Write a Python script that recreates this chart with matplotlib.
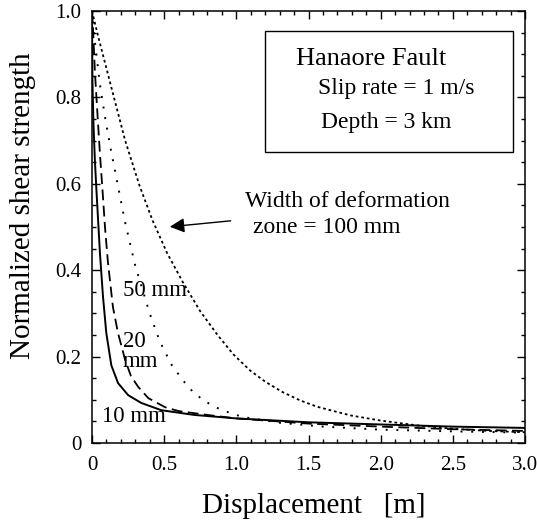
import matplotlib
matplotlib.use('Agg')
import matplotlib.pyplot as plt
from matplotlib.patches import Rectangle
from matplotlib.ticker import MultipleLocator, FixedFormatter, FixedLocator

plt.rcParams['font.family'] = 'serif'
plt.rcParams['font.serif'] = ['Liberation Serif', 'DejaVu Serif']

# curves (displacement [m], normalized shear strength)
x_10mm = [0, 0.003, 0.01, 0.02, 0.03, 0.04, 0.055, 0.076, 0.099, 0.134, 0.18, 0.25, 0.34, 0.48, 0.71,
          1.0, 1.5, 2.0, 2.5, 3.0]
y_10mm = [1.0, 0.84, 0.74, 0.655, 0.59, 0.53, 0.44, 0.34, 0.255, 0.18, 0.139, 0.111, 0.093, 0.076, 0.065,
          0.057, 0.048, 0.043, 0.038, 0.035]

x_20mm = [0, 0.007, 0.02, 0.04, 0.055, 0.076, 0.09, 0.11, 0.145, 0.18, 0.23, 0.27, 0.32, 0.39, 0.506,
          0.6, 0.8, 1.0, 1.5, 2.0, 2.5, 3.0]
y_20mm = [1.0, 0.96, 0.86, 0.75, 0.67, 0.57, 0.50, 0.42, 0.315, 0.255, 0.192, 0.155, 0.13, 0.104, 0.083,
          0.074, 0.065, 0.057, 0.045, 0.038, 0.032, 0.028]

x_50mm = [0, 0.02, 0.055, 0.09, 0.13, 0.18, 0.23, 0.30, 0.40, 0.47, 0.55, 0.63, 0.70, 0.78, 0.87,
          0.96, 1.05, 1.3, 1.6, 2.0, 2.5, 3.0]
y_50mm = [1.0, 0.93, 0.83, 0.755, 0.68, 0.595, 0.51, 0.41, 0.30, 0.235, 0.182, 0.145, 0.118, 0.097, 0.081,
          0.069, 0.06, 0.047, 0.038, 0.031, 0.027, 0.024]

x_100mm = [0, 0.04, 0.125, 0.23, 0.33, 0.42, 0.52, 0.63, 0.75, 0.87, 0.98, 1.095, 1.2, 1.32, 1.44,
           1.56, 1.79, 2.0, 2.25, 2.5, 2.75, 3.0]
y_100mm = [1.0, 0.945, 0.835, 0.70, 0.595, 0.515, 0.44, 0.372, 0.305, 0.25, 0.205, 0.168, 0.142, 0.118, 0.099,
           0.084, 0.064, 0.052, 0.041, 0.033, 0.028, 0.025]

x_ticks = [0, 0.5, 1.0, 1.5, 2.0, 2.5, 3.0]
x_ticklabels = ['0', '0.5', '1.0', '1.5', '2.0', '2.5', '3.0']
y_ticks = [0, 0.2, 0.4, 0.6, 0.8, 1.0]
y_ticklabels = ['0', '0.2', '0.4', '0.6', '0.8', '1.0']

fig = plt.figure(figsize=(5.37, 5.20), dpi=100)
ax = fig.add_axes([0.1713, 0.148, 0.8064, 0.8308])

ax.plot(x_10mm, y_10mm, color='black', lw=1.4, ls='-')
ax.plot(x_20mm, y_20mm, color='black', lw=1.3, ls=(0, (6, 3)))
ax.plot(x_50mm, y_50mm, color='black', lw=1.4, ls=(0, (1, 4.5)))
ax.plot(x_100mm, y_100mm, color='black', lw=1.3, ls=(0, (1.5, 1.6)))

ax.set_xlim(0, 3.0)
ax.set_ylim(0, 1.0)
ax.xaxis.set_major_locator(FixedLocator(x_ticks))
ax.xaxis.set_major_formatter(FixedFormatter(x_ticklabels))
ax.yaxis.set_major_locator(FixedLocator(y_ticks))
ax.yaxis.set_major_formatter(FixedFormatter(y_ticklabels))
ax.xaxis.set_minor_locator(MultipleLocator(0.1))
ax.yaxis.set_minor_locator(MultipleLocator(0.05))
ax.tick_params(which='both', direction='in', top=True, right=True, width=1)
ax.tick_params(which='major', length=6)
ax.tick_params(which='minor', length=3)
ax.tick_params(axis='x', labelsize=15, pad=9)
ax.tick_params(axis='y', labelsize=15, pad=7.5)
for s in ax.spines.values():
    s.set_linewidth(1.1)

ax.set_xlabel('Displacement   [m]', fontsize=21)
ax.set_ylabel('Normalized shear strength', fontsize=21)
ax.xaxis.set_label_coords(0.513, -0.115)
ax.yaxis.set_label_coords(-0.13, 0.55)

# info box
ax.add_patch(Rectangle((1.20, 0.674), 1.72, 0.28, fill=False, edgecolor='black', lw=1))
ax.text(1.41, 0.875, 'Hanaore Fault', fontsize=19)
ax.text(1.566, 0.808, 'Slip rate = 1 m/s', fontsize=17)
ax.text(1.59, 0.729, 'Depth = 3 km', fontsize=17)

# curve labels
ax.text(1.06, 0.546, 'Width of deformation', fontsize=17)
ax.text(1.115, 0.486, 'zone = 100 mm', fontsize=17)
ax.annotate('', xy=(0.52, 0.50), xytext=(0.98, 0.515),
            arrowprops=dict(arrowstyle='-|>', color='black', lw=1, mutation_scale=22))
ax.text(0.215, 0.340, '50 mm', fontsize=16.5)
ax.text(0.215, 0.222, '20', fontsize=16.5)
ax.text(0.215, 0.176, 'mm', fontsize=16.5)
ax.text(0.069, 0.049, '10 mm', fontsize=16.5)

fig.savefig('out.png', dpi=100)
